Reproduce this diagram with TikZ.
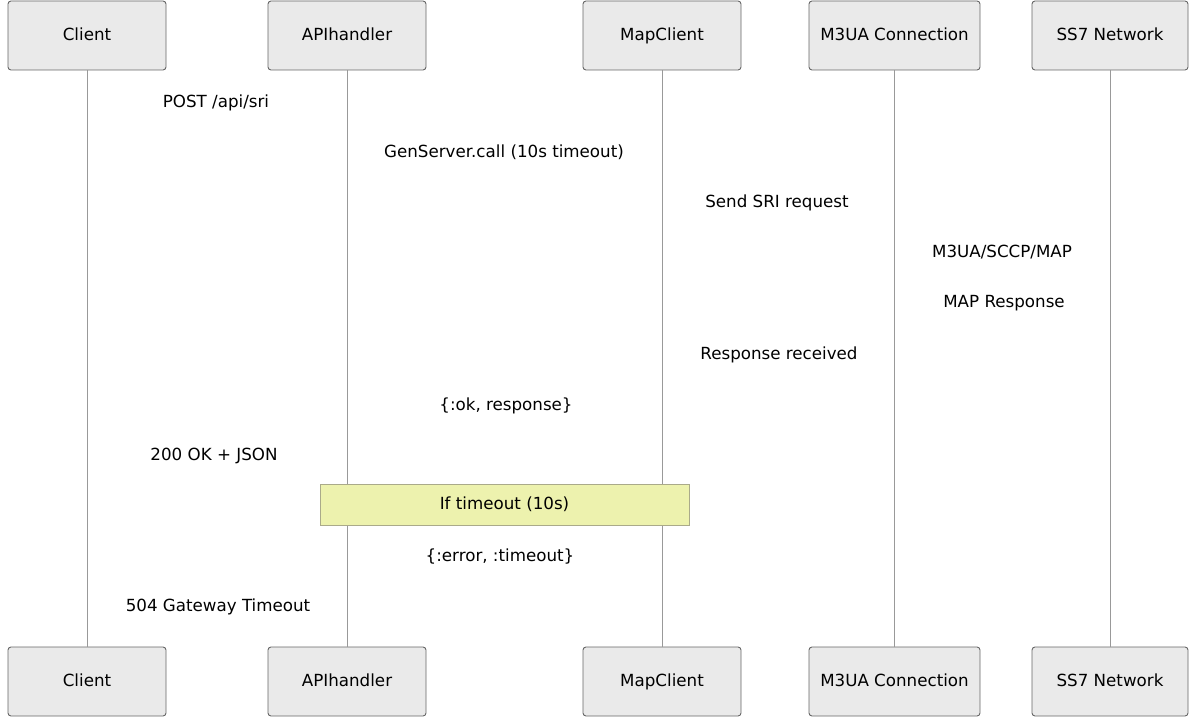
\documentclass[tikz,border=0pt]{standalone}
\usepackage{fontspec}
\setmainfont{DejaVu Sans}
\usepackage{tikz}
\definecolor{actorfill}{HTML}{EAEAEA}
\definecolor{actorline}{HTML}{666666}
\definecolor{notefill}{HTML}{EDF2AE}
\definecolor{noteline}{HTML}{AAAA8A}
\tikzset{
	actor/.style={draw=actorline, fill=actorfill, line width=0.9, rounded corners=3, minimum height=69, inner sep=0, text height=1.06em, text depth=0pt},
	lifeline/.style={draw=black!40, line width=0.8},
	msg/.style={text height=1.06em, text depth=0pt},
}
\begin{document}
\begin{tikzpicture}[x=1pt, y=-1pt, every node/.style={font=\fontsize{16.7}{20}\selectfont}]
		%%%%% START %%%%%
		\useasboundingbox (0, 0) rectangle (1189, 717);
		
		\node[actor, minimum width=158] (clientT) at (87, 35.5) {Client};
		\node[actor, minimum width=158] (apiT) at (347, 35.5) {APIhandler};
		\node[actor, minimum width=158] (mapT) at (662, 35.5) {MapClient};
		\node[actor, minimum width=171] (m3uaT) at (894.5, 35.5) {M3UA Connection};
		\node[actor, minimum width=156] (ss7T) at (1110, 35.5) {SS7 Network};
		
		\node[actor, minimum width=158] (clientB) at (87, 681.5) {Client};
		\node[actor, minimum width=158] (apiB) at (347, 681.5) {APIhandler};
		\node[actor, minimum width=158] (mapB) at (662, 681.5) {MapClient};
		\node[actor, minimum width=171] (m3uaB) at (894.5, 681.5) {M3UA Connection};
		\node[actor, minimum width=156] (ss7B) at (1110, 681.5) {SS7 Network};
		
		\foreach \p in {client, api, map, m3ua, ss7}
			\draw[lifeline] (\p T.south) -- (\p B.north);
		
		\node[msg] (m1) at (216, 102) {POST /api/sri};
		\node[msg] (m2) at (504, 152) {GenServer.call (10s timeout)};
		\node[msg] (m3) at (777, 202) {Send SRI request};
		\node[msg] (m4) at (1002, 252) {M3UA/SCCP/MAP};
		\node[msg] (m5) at (1004, 302) {MAP Response};
		\node[msg] (m6) at (779, 354) {Response received};
		\node[msg] (m7) at (506, 405) {\{:ok, response\}};
		\node[msg] (m8) at (214, 455) {200 OK + JSON};
		
		\node[draw=noteline, fill=notefill, minimum width=369, minimum height=41, inner sep=0, text height=1.06em, text depth=0pt] (note) at (504.5, 504.5) {If timeout (10s)};
		
		\node[msg] (m9) at (500, 556) {\{:error, :timeout\}};
		\node[msg] (m10) at (218, 606) {504 Gateway Timeout};
		%%%%% END %%%%%
	\end{tikzpicture}
\end{document}
